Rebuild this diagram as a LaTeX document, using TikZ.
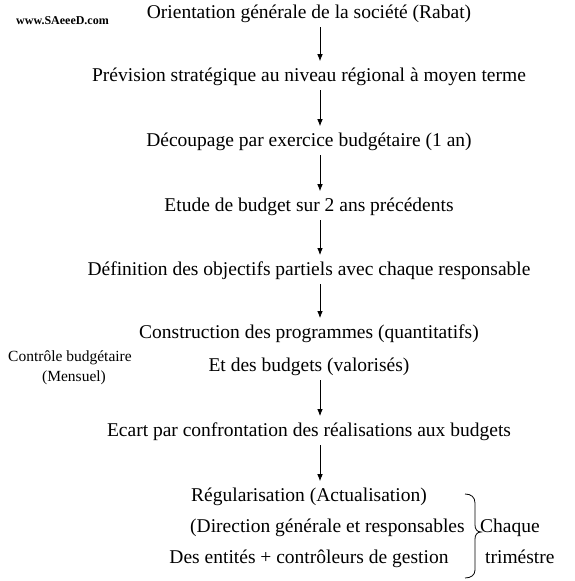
\documentclass[tikz,border=0pt]{standalone}
\usepackage{fontspec}
\setmainfont{Liberation Serif}
\usetikzlibrary{arrows.meta}

\begin{document}
\begin{tikzpicture}[x=1pt,y=-1pt,
  etape/.style={anchor=base,inner sep=0pt,font=\fontsize{19.5}{23}\selectfont},
  petit/.style={anchor=base,inner sep=0pt,font=\fontsize{15.5}{18}\selectfont},
  fleche/.style={-{Latex[length=7pt,width=5.5pt]},line width=0.8pt,shorten <=5pt,shorten >=6pt}]
\useasboundingbox (0,0) rectangle (575,581);

\node[anchor=base,inner sep=0pt,font=\bfseries\fontsize{12}{14}\selectfont] (site) at (62.5,24) {www.SAeeeD.com};
\coordinate (axe) at (320,0);

\node[etape] (orient) at (309,18) {Orientation générale de la société (Rabat)};
\node[etape] (prev) at (309,81) {Prévision stratégique au niveau régional à moyen terme};
\node[etape] (decoup) at (309,146) {Découpage par exercice budgétaire (1 an)};
\node[etape] (etude) at (309,211) {Etude de budget sur 2 ans précédents};
\node[etape] (defin) at (309,275) {Définition des objectifs partiels avec chaque responsable};
\node[etape] (constr) at (309,338) {Construction des programmes (quantitatifs)};
\node[etape] (budg) at (309,371) {Et des budgets (valorisés)};
\node[etape] (ecart) at (309,436) {Ecart par confrontation des réalisations aux budgets};
\node[etape] (regul) at (309,501) {Régularisation (Actualisation)};
\node[etape,anchor=base west] (direc) at (190,532) {(Direction générale et responsables};
\node[etape] (entit) at (309,563) {Des entités + contrôleurs de gestion};

\node[petit] (ctrl) at (70,361) {Contrôle budgétaire};
\node[petit] (mens) at (74,381) {(Mensuel)};

\node[etape,anchor=base west] (chaque) at (480,532) {Chaque};
\node[etape,anchor=base west] (trim) at (485,563) {triméstre};

% les fleches
\draw[fleche] (orient.south -| axe) -- (prev.north -| axe);
\draw[fleche] (prev.south -| axe) -- (decoup.north -| axe);
\draw[fleche] (decoup.south -| axe) -- (etude.north -| axe);
\draw[fleche] (etude.south -| axe) -- (defin.north -| axe);
\draw[fleche] (defin.south -| axe) -- (constr.north -| axe);
\draw[fleche] (budg.south -| axe) -- (ecart.north -| axe);
\draw[fleche] (ecart.south -| axe) -- (regul.north -| axe);

% accolade
\draw[line width=0.8pt] (465,494) .. controls (471,494) and (475,497) .. (475,503) -- (475,525)
  .. controls (475,529) and (477,532) .. (481,532) .. controls (477,532) and (475,535) .. (475,539)
  -- (475,570) .. controls (475,575) and (471,578) .. (465,578);

\end{tikzpicture}
\end{document}
